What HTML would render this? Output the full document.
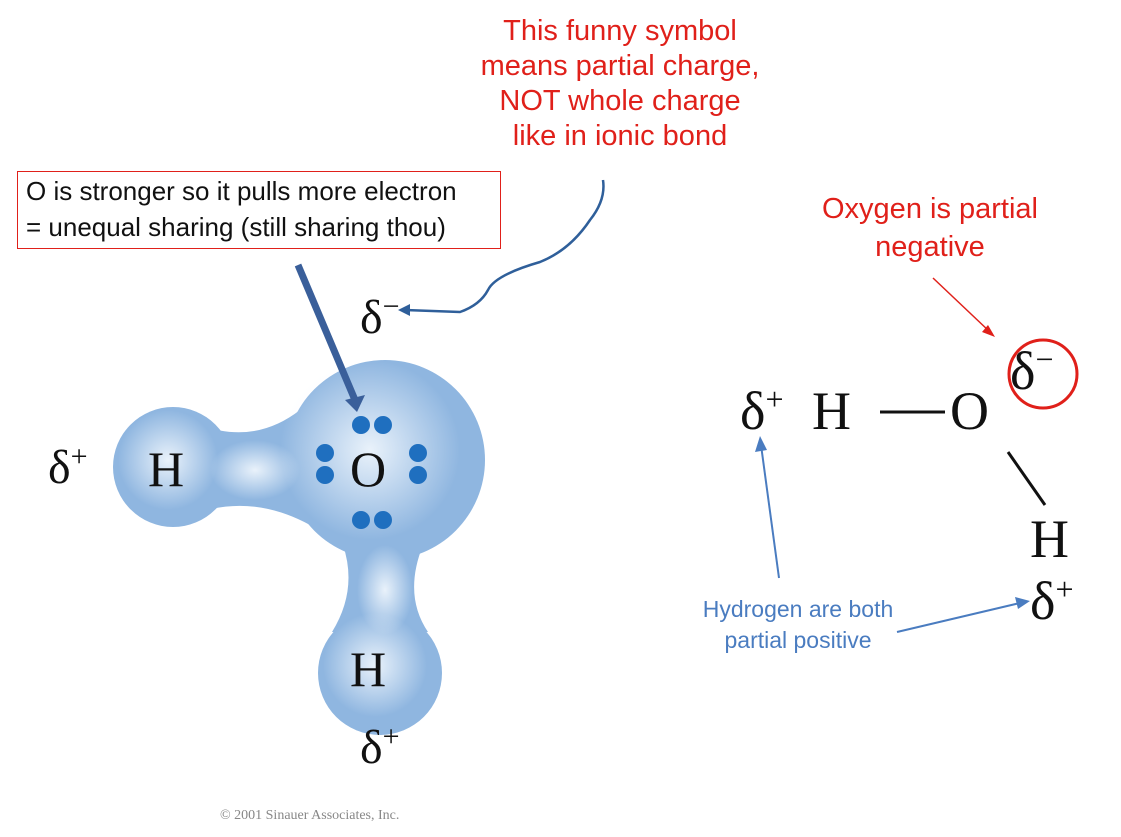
<!DOCTYPE html>
<html><head><meta charset="utf-8"><style>
body{margin:0;width:1121px;height:837px;background:#fff;overflow:hidden;position:relative;font-family:"Liberation Sans",sans-serif}
.t{position:absolute;text-align:center;white-space:nowrap}
.red{color:#e0201a;font-size:29px;line-height:35px}
.serif{font-family:"Liberation Serif",serif;color:#111;position:absolute}
</style></head><body>
<svg width="1121" height="837" style="position:absolute;left:0;top:0">
<defs>
<radialGradient id="h" cx="50%" cy="50%" r="50%">
<stop offset="0" stop-color="#eef5fc" stop-opacity="0.95"/><stop offset="1" stop-color="#eef5fc" stop-opacity="0"/></radialGradient>
</defs>
<g fill="#8fb6e0">
<circle cx="385" cy="460" r="100"/>
<circle cx="173" cy="467" r="60"/>
<circle cx="380" cy="673" r="62"/>
<path d="M200,425 Q255,445 300,410 L310,525 Q255,495 200,512 Z"/>
<path d="M343,545 L423,545 Q403,595 428,632 L332,632 Q358,590 343,545 Z"/>
</g>
<circle cx="370" cy="450" r="90" fill="url(#h)"/>
<circle cx="168" cy="460" r="50" fill="url(#h)"/>
<circle cx="375" cy="665" r="52" fill="url(#h)"/>
<ellipse cx="255" cy="470" rx="45" ry="30" fill="url(#h)"/>
<ellipse cx="385" cy="590" rx="28" ry="45" fill="url(#h)"/>
<g fill="#1f6fbf">
<circle cx="361" cy="425" r="9"/><circle cx="383" cy="425" r="9"/>
<circle cx="361" cy="520" r="9"/><circle cx="383" cy="520" r="9"/>
<circle cx="325" cy="453" r="9"/><circle cx="325" cy="475" r="9"/>
<circle cx="418" cy="453" r="9"/><circle cx="418" cy="475" r="9"/>
</g>
<line x1="298" y1="265" x2="355" y2="400" stroke="#3a5f9a" stroke-width="7"/>
<polygon points="345,400 365,395 357,412" fill="#3a5f9a"/>
<path d="M603,180 Q606,200 590,220 Q570,250 540,262 Q495,275 488,290 Q480,305 460,312 L405,310" fill="none" stroke="#2f5f9a" stroke-width="2.5"/>
<polygon points="398,310 410,304 410,316" fill="#2f5f9a"/>
<line x1="933" y1="278" x2="990" y2="332" stroke="#e0201a" stroke-width="1.5"/>
<polygon points="995,337 982,332 988,325" fill="#e0201a"/>
<circle cx="1043" cy="374" r="34" fill="none" stroke="#e0201a" stroke-width="3"/>
<line x1="880" y1="412" x2="945" y2="412" stroke="#111" stroke-width="3"/>
<line x1="1008" y1="452" x2="1045" y2="505" stroke="#111" stroke-width="3"/>
<line x1="779" y1="578" x2="761" y2="445" stroke="#4a7cc0" stroke-width="2"/>
<polygon points="760,436 755,452 767,450" fill="#4a7cc0"/>
<line x1="897" y1="632" x2="1020" y2="603" stroke="#4a7cc0" stroke-width="2"/>
<polygon points="1030,601 1015,597 1018,609" fill="#4a7cc0"/>
</svg>
<div class="t red" style="left:455px;top:14px;width:330px">This funny symbol<br>means partial charge,<br>NOT whole charge<br>like in ionic bond</div>
<div class="t red" style="left:780px;top:190px;width:300px;line-height:38px">Oxygen is partial<br>negative</div>
<div class="t" style="left:17px;top:171px;width:484px;height:78px;border:1.5px solid #e0201a;box-sizing:border-box;font-size:26px;line-height:36px;text-align:left;padding:1px 0 0 8px;color:#111">O is stronger so it pulls more electron<br>= unequal sharing (still sharing thou)</div>
<div class="t" style="left:668px;top:594px;width:260px;color:#4a7cc0;font-size:23px;line-height:31px">Hydrogen are both<br>partial positive</div>
<div class="serif" style="left:360px;top:290px;font-size:48px">δ<sup style="font-size:30px">−</sup></div>
<div class="serif" style="left:48px;top:440px;font-size:48px">δ<sup style="font-size:30px">+</sup></div>
<div class="serif" style="left:148px;top:440px;font-size:50px">H</div>
<div class="serif" style="left:350px;top:440px;font-size:50px">O</div>
<div class="serif" style="left:350px;top:640px;font-size:50px">H</div>
<div class="serif" style="left:360px;top:720px;font-size:48px">δ<sup style="font-size:30px">+</sup></div>
<div class="t" style="left:220px;top:808px;font-size:14px;color:#888;font-family:'Liberation Serif',serif">© 2001 Sinauer Associates, Inc.</div>
<div class="serif" style="left:740px;top:380px;font-size:54px">δ<sup style="font-size:32px">+</sup></div>
<div class="serif" style="left:812px;top:380px;font-size:54px">H</div>
<div class="serif" style="left:950px;top:380px;font-size:54px">O</div>
<div class="serif" style="left:1010px;top:340px;font-size:54px">δ<sup style="font-size:32px">−</sup></div>
<div class="serif" style="left:1030px;top:508px;font-size:54px">H</div>
<div class="serif" style="left:1030px;top:570px;font-size:54px">δ<sup style="font-size:32px">+</sup></div>
</body></html>
